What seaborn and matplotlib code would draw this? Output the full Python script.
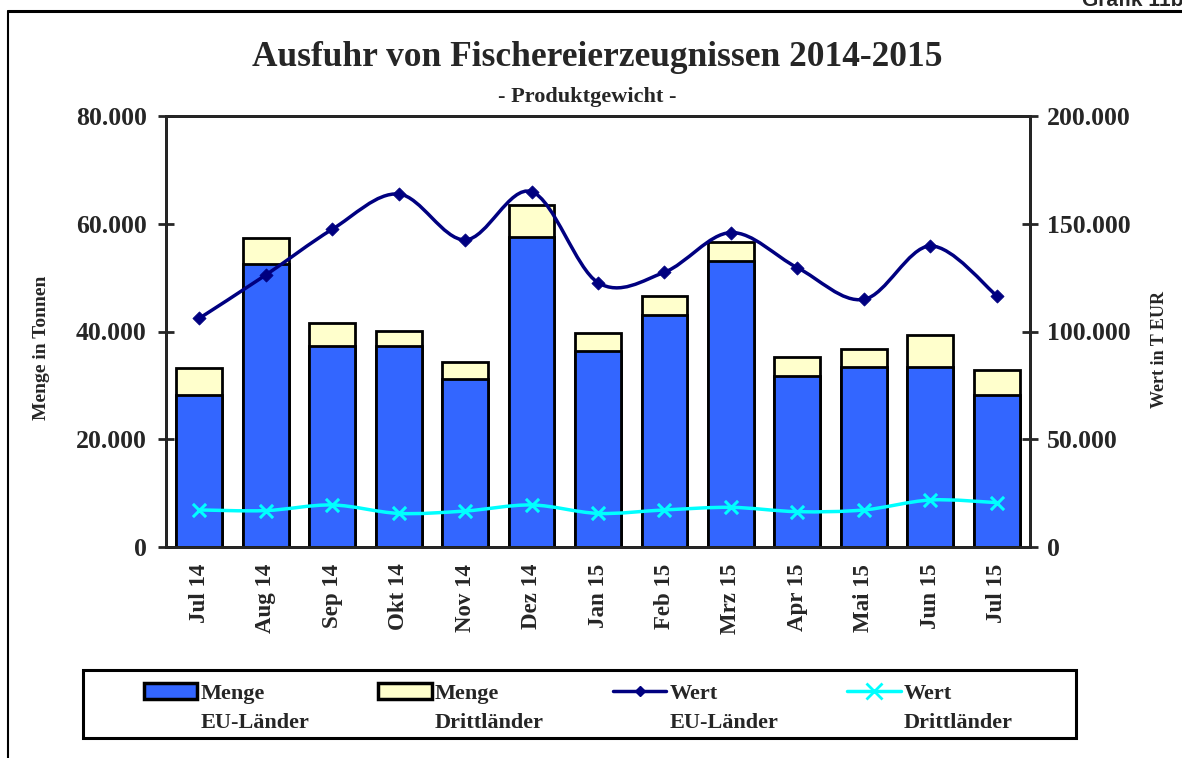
import numpy as np
import pandas as pd
import seaborn as sns
import matplotlib.pyplot as plt
from matplotlib.path import Path
from matplotlib.patches import PathPatch, Patch, Rectangle
from matplotlib.lines import Line2D
from matplotlib.ticker import FuncFormatter, FixedLocator

# data
monate = ['Jul 14', 'Aug 14', 'Sep 14', 'Okt 14', 'Nov 14', 'Dez 14', 'Jan 15',
          'Feb 15', 'Mrz 15', 'Apr 15', 'Mai 15', 'Jun 15', 'Jul 15']
menge_eu = [28200, 52500, 37300, 37300, 31100, 57600, 36300, 43100, 53100, 31800, 33500, 33500, 28300]
menge_dritt = [5100, 4900, 4200, 2850, 3200, 5900, 3500, 3500, 3450, 3450, 3200, 5850, 4550]
wert_eu = [106100, 126200, 147400, 163800, 142500, 164900, 122700, 127500, 145900, 129600, 114900, 139700, 116600]
wert_dritt = [17200, 16900, 19500, 15600, 16700, 19500, 15600, 17200, 18400, 16400, 17200, 21800, 20600]

df = pd.DataFrame({'monat': monate, 'eu': menge_eu, 'dritt': menge_dritt,
                   'w_eu': wert_eu, 'w_dritt': wert_dritt})
df['gesamt'] = df['eu'] + df['dritt']
df['pos'] = np.arange(len(df))

BLAU = '#3366FF'
GELB = '#FFFFCC'
NAVY = '#000080'
CYAN = '#00FFFF'

W, H = 1182, 758

sns.set_style('white')
plt.rcParams['font.family'] = ['Liberation Serif', 'DejaVu Serif']
plt.rcParams['font.weight'] = 'bold'


def dots(v, pos):
    return f'{int(v):,}'.replace(',', '.')


def smooth_path(x, y):
    # excel-like smoothed line (catmull-rom as cubic bezier)
    pts = np.column_stack([x, y]).astype(float)
    verts = [pts[0]]
    codes = [Path.MOVETO]
    n = len(pts)
    for i in range(n - 1):
        p0 = pts[max(i - 1, 0)]
        p1 = pts[i]
        p2 = pts[i + 1]
        p3 = pts[min(i + 2, n - 1)]
        c1 = p1 + (p2 - p0) / 6
        c2 = p2 - (p3 - p1) / 6
        verts += [c1, c2, p2]
        codes += [Path.CURVE4] * 3
    return Path(verts, codes)


fig = plt.figure(figsize=(W / 100, H / 100), dpi=100)
ax = fig.add_axes([166 / W, 1 - 547 / H, (1030 - 166) / W, (547 - 116) / H])

sns.barplot(data=df, x='pos', y='gesamt', color=GELB, edgecolor='black', linewidth=2,
            width=0.69, saturation=1, native_scale=True, ax=ax)
sns.barplot(data=df, x='pos', y='eu', color=BLAU, edgecolor='black', linewidth=2,
            width=0.69, saturation=1, native_scale=True, ax=ax)

ax.set_xlim(-0.5, len(df) - 0.5)
ax.set_ylim(0, 80000)
ax.set_yticks(np.arange(0, 80001, 20000))
ax.yaxis.set_major_formatter(FuncFormatter(dots))
ax.xaxis.set_major_locator(FixedLocator(np.arange(-0.5, len(df), 1)))
ax.xaxis.set_minor_locator(FixedLocator(df['pos']))
ax.set_xticklabels([], minor=False)
ax.set_xticklabels(monate, minor=True, rotation=90, fontsize=16.5, fontweight='bold')
ax.tick_params(axis='x', which='major', direction='inout', length=12, width=2)
ax.tick_params(axis='x', which='minor', length=0, pad=12)
ax.tick_params(axis='y', direction='inout', length=12, width=2, labelsize=18.5, pad=8)
ax.set_xlabel('')
ax.set_ylabel('')
for s in ax.spines.values():
    s.set_linewidth(2)
    s.set_color('black')

ax2 = ax.twinx()
ax2.set_ylim(0, 200000)
ax2.set_yticks(np.arange(0, 200001, 50000))
ax2.yaxis.set_major_formatter(FuncFormatter(dots))
ax2.tick_params(axis='y', direction='inout', length=12, width=2, labelsize=18.5, pad=6)
for s in ax2.spines.values():
    s.set_linewidth(2)

ax2.add_patch(PathPatch(smooth_path(df['pos'], df['w_eu']), fill=False, edgecolor=NAVY, lw=2.5))
ax2.add_patch(PathPatch(smooth_path(df['pos'], df['w_dritt']), fill=False, edgecolor=CYAN, lw=2.5))
sns.scatterplot(data=df, x='pos', y='w_eu', marker='D', color=NAVY, s=45, edgecolor=NAVY, ax=ax2, zorder=5)
sns.scatterplot(data=df, x='pos', y='w_dritt', marker='x', color=CYAN, s=90, linewidth=2.2, ax=ax2, zorder=5)
ax2.set_xlabel('')
ax2.set_ylabel('')

fig.text(42 / W, 1 - 348 / H, 'Menge in Tonnen', rotation=90, ha='center', va='center',
         fontsize=14, fontweight='bold')
fig.text(1160 / W, 1 - 350 / H, 'Wert in T EUR', rotation=90, ha='center', va='center',
         fontsize=13, fontweight='bold')

fig.text(597 / W, 1 - 58 / H, 'Ausfuhr von Fischereierzeugnissen 2014-2015',
         ha='center', va='center', fontsize=25.5, fontweight='bold')
fig.text(587 / W, 1 - 97 / H, '- Produktgewicht -',
         ha='center', va='center', fontsize=16, fontweight='bold')
fig.text(1184 / W, 1 - 1 / H, 'Grafik 11b', ha='right', va='center', fontsize=15,
         fontweight='bold', family=['Liberation Sans', 'DejaVu Sans'])

# outer frame
fig.add_artist(Line2D([8 / W, 1], [1 - 11 / H, 1 - 11 / H], color='black', lw=2.2,
                      transform=fig.transFigure))
fig.add_artist(Line2D([8 / W, 8 / W], [0, 1 - 11 / H], color='black', lw=1.5,
                      transform=fig.transFigure))

# legend box
fig.add_artist(Rectangle((83 / W, 1 - 738 / H), (1076 - 83) / W, 68 / H, fill=False,
                         edgecolor='black', lw=2.2, transform=fig.transFigure))
blank = Patch(visible=False)
handles = [Patch(facecolor=BLAU, edgecolor='black', lw=2.5), blank,
           Patch(facecolor=GELB, edgecolor='black', lw=2.5), blank,
           Line2D([], [], color=NAVY, lw=2.5, marker='D', ms=5), blank,
           Line2D([], [], color=CYAN, lw=2.5, marker='x', ms=11, mew=2), blank]
labels = ['Menge', 'EU-Länder', 'Menge', 'Drittländer', 'Wert', 'EU-Länder', 'Wert', 'Drittländer']
leg = fig.legend(handles, labels, ncol=4, loc='upper left',
                 bbox_to_anchor=(144 / W, 1 - 683 / H),
                 fontsize=16, frameon=False, handlelength=2.4, handletextpad=0.15,
                 labelspacing=0.4, columnspacing=3.1, borderpad=0, borderaxespad=0)

fig.savefig('out.png', dpi=100)
